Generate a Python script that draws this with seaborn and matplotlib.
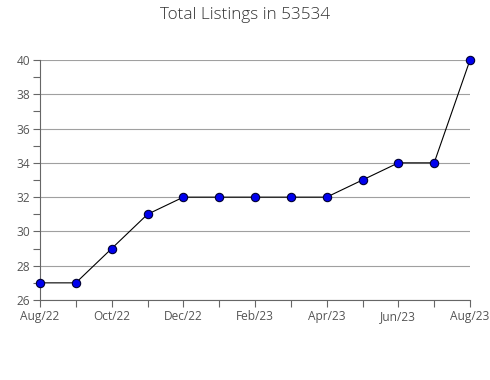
import matplotlib
matplotlib.use("Agg")
import matplotlib.pyplot as plt
import seaborn as sns
import pandas as pd
from matplotlib.ticker import MultipleLocator

months = ["Aug/22", "Sep/22", "Oct/22", "Nov/22", "Dec/22", "Jan/23", "Feb/23",
          "Mar/23", "Apr/23", "May/23", "Jun/23", "Jul/23", "Aug/23"]
listings = [27, 27, 29, 31, 32, 32, 32, 32, 32, 33, 34, 34, 40]
y_ticks = [26, 28, 30, 32, 34, 36, 38, 40]

sns.set_style("white")
plt.rcParams['font.family'] = ['Open Sans', 'DejaVu Sans']

df = pd.DataFrame({"idx": range(len(months)), "value": listings})

fig = plt.figure(figsize=(4.9, 3.8), dpi=100)
ax = fig.add_axes([40/490, 1-300/380, 430/490, 240/380])

sns.lineplot(data=df, x="idx", y="value", ax=ax, color="black", linewidth=0.8,
             marker="o", markersize=6, markerfacecolor="#0000ee",
             markeredgecolor="#000033", markeredgewidth=0.8, zorder=3,
             clip_on=False)

ax.set_xlim(0, len(months) - 1)
ax.set_ylim(26, 40)
ax.set_yticks(y_ticks)
ax.yaxis.set_minor_locator(MultipleLocator(1))
ax.set_xticks(list(range(0, len(months), 2)))
ax.set_xticklabels(months[::2])
ax.xaxis.set_minor_locator(MultipleLocator(1))

ax.grid(axis="y", which="major", color="#a0a0a0", linewidth=0.8)
ax.set_axisbelow(True)
for s in ["top", "right"]:
    ax.spines[s].set_visible(False)
for s in ["left", "bottom"]:
    ax.spines[s].set_color("#666666")
    ax.spines[s].set_linewidth(0.8)

ax.tick_params(axis="both", which="both", direction="out", color="#666666",
               labelsize=8.6, labelcolor="#555555")
ax.tick_params(axis="both", which="major", length=5, width=0.8, pad=2)
ax.tick_params(axis="both", which="minor", length=5, width=0.8)
ax.tick_params(axis="y", which="both", left=True)
ax.tick_params(axis="x", which="both", bottom=True)
ax.set_xlabel("")
ax.set_ylabel("")

fig.suptitle("Total Listings in 53534", x=245/490, y=1-15/380, va="center",
             fontsize=12.3, color="#333333", fontweight="light")

fig.savefig("out.png", dpi=100, facecolor="white")
